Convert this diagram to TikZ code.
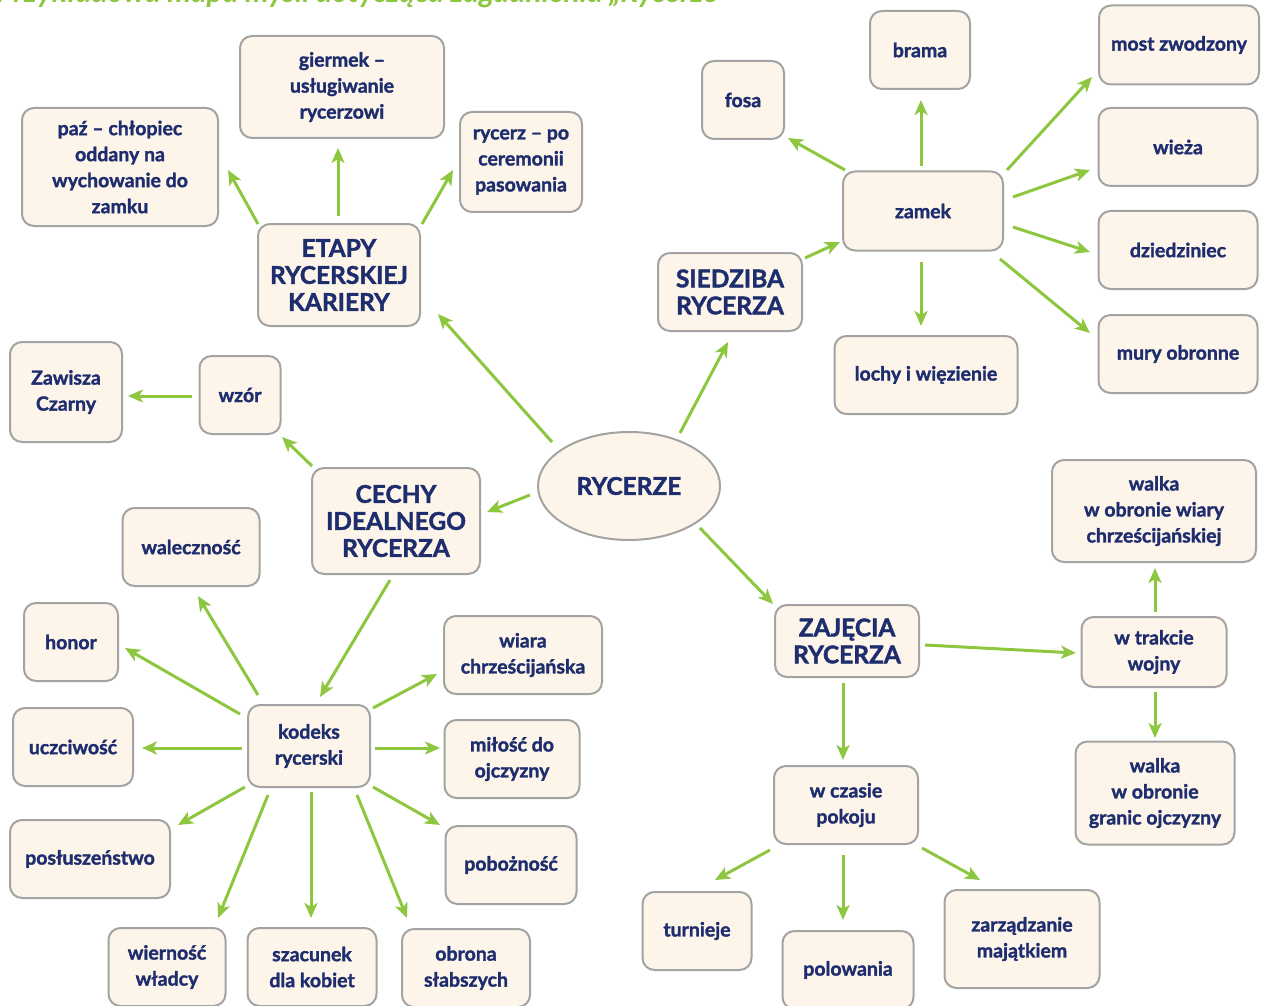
\documentclass[tikz,border=0pt]{standalone}
\usepackage{fontspec}
\setmainfont{Lato}[BoldFeatures={FakeBold=1.6}]
\usetikzlibrary{shapes.geometric,arrows.meta,calc}
\definecolor{navy}{HTML}{1E2D6E}
\definecolor{boxfill}{HTML}{FDF5EA}
\definecolor{boxline}{HTML}{A3A3A3}
\definecolor{lime}{HTML}{8DC63F}
\tikzset{
  box/.style={draw=boxline, fill=boxfill, line width=2pt, rounded corners=12pt,
    align=center, text=navy, inner sep=0pt,
    font=\bfseries\fontsize{19.5}{26}\selectfont},
  bigbox/.style={box, font=\bfseries\fontsize{24.5}{27}\selectfont},
  arr/.style={draw=lime, line width=3pt, -{Stealth[length=15pt,width=13pt,inset=4pt]}},
}
\newcommand\conn[4]{\draw[arr] ($(#1)+(#2)$) -- ($(#3)+(#4)$);}
\begin{document}
\begin{tikzpicture}[x=1pt,y=-1pt]
\useasboundingbox (0,0) rectangle (1270,1006);
\node[anchor=base west, text=lime, font=\bfseries\itshape\fontsize{30}{32}\selectfont, inner sep=0pt] (title) at (-4,3) {Przykładowa mapa myśli dotycząca zagadnienia „Rycerze”};
% left top
\node[box, minimum width=204, minimum height=102] (gier) at (342,87) {giermek –\\usługiwanie\\rycerzowi};
\node[box, minimum width=196, minimum height=118] (paz) at (120,167) {paź – chłopiec\\oddany na\\wychowanie do\\zamku};
\node[box, minimum width=122, minimum height=100] (ryc) at (521,162) {rycerz – po\\ceremonii\\pasowania};
\node[bigbox, minimum width=162, minimum height=102] (etapy) at (339,275) {ETAPY\\RYCERSKIEJ\\KARIERY};
\node[box, minimum width=112, minimum height=100] (zaw) at (66,392) {Zawisza\\Czarny};
\node[box, minimum width=81, minimum height=78] (wzor) at (240,395) {wzór};
\node[bigbox, minimum width=168, minimum height=106] (cechy) at (396,521) {CECHY\\IDEALNEGO\\RYCERZA};
\node[ellipse, draw=boxline, fill=boxfill, line width=2pt, text=navy, inner sep=0pt,
  font=\bfseries\fontsize{24.5}{27}\selectfont, minimum width=182, minimum height=108] (rc) at (629,486) {RYCERZE};
% cechy
\node[box, minimum width=137, minimum height=78] (wal) at (191,547) {waleczność};
\node[box, minimum width=94, minimum height=78] (hon) at (71,642) {honor};
\node[box, minimum width=158, minimum height=78] (wiara) at (523,655) {wiara\\chrześcijańska};
\node[box, minimum width=122, minimum height=82] (kod) at (309,746) {kodeks\\rycerski};
\node[box, minimum width=120, minimum height=78] (ucz) at (73,747) {uczciwość};
\node[box, minimum width=135, minimum height=78] (mil) at (512,759) {miłość do\\ojczyzny};
\node[box, minimum width=160, minimum height=78] (pos) at (90,859) {posłuszeństwo};
\node[box, minimum width=131, minimum height=78] (pob) at (511,865) {pobożność};
\node[box, minimum width=117, minimum height=78] (wie) at (167,967) {wierność\\władcy};
\node[box, minimum width=129, minimum height=78] (sza) at (312,967) {szacunek\\dla kobiet};
\node[box, minimum width=128, minimum height=78] (obr) at (466,968) {obrona\\słabszych};
% siedziba
\node[bigbox, minimum width=144, minimum height=78] (sied) at (730,292) {SIEDZIBA\\RYCERZA};
\node[box, minimum width=160, minimum height=79] (zamek) at (923,211) {zamek};
\node[box, minimum width=82, minimum height=78] (fosa) at (743,100) {fosa};
\node[box, minimum width=100, minimum height=78] (brama) at (920,50) {brama};
\node[box, minimum width=160, minimum height=79] (most) at (1179,45) {most zwodzony};
\node[box, minimum width=159, minimum height=78] (wieza) at (1178,147) {wieża};
\node[box, minimum width=159, minimum height=78] (dzie) at (1178,250) {dziedziniec};
\node[box, minimum width=159, minimum height=78] (mury) at (1178,354) {mury obronne};
\node[box, minimum width=183, minimum height=78] (lochy) at (926,375) {lochy i więzienie};
% zajecia
\node[bigbox, minimum width=144, minimum height=72] (zaj) at (847,641) {ZAJĘCIA\\RYCERZA};
\node[box, minimum width=204, minimum height=102] (wwiary) at (1154,511) {walka\\w obronie wiary\\chrześcijańskiej};
\node[box, minimum width=145, minimum height=70] (wtr) at (1154,652) {w trakcie\\wojny};
\node[box, minimum width=159, minimum height=103] (wgran) at (1155,793) {walka\\w obronie\\granic ojczyzny};
\node[box, minimum width=144, minimum height=78] (wcz) at (846,805) {w czasie\\pokoju};
\node[box, minimum width=109, minimum height=78] (tur) at (697,931) {turnieje};
\node[box, minimum width=131, minimum height=78] (pol) at (848,970) {polowania};
\node[box, minimum width=155, minimum height=98] (zarz) at (1022,939) {zarządzanie\\majątkiem};
% connectors
\conn{etapy}{-81,-51}{paz}{108,3}
\conn{etapy}{-1,-59}{gier}{-4,61}
\conn{etapy}{83,-51}{ryc}{-68,8}
\conn{rc}{-77,-44}{etapy}{99,39}
\conn{cechy}{-84,-55}{wzor}{42,42}
\conn{wzor}{-48,1}{zaw}{62,4}
\conn{rc}{-99,9}{cechy}{91,-9}
\conn{cechy}{-6,59}{kod}{11,-49}
\conn{kod}{-51,-51}{wal}{7,49}
\conn{kod}{-69,-32}{hon}{54,6}
\conn{kod}{-67,2}{ucz}{69,1}
\conn{kod}{-64,41}{pos}{88,-34}
\conn{kod}{-41,49}{wie}{51,-49}
\conn{kod}{2,46}{sza}{-1,-49}
\conn{kod}{48,49}{obr}{-59,-50}
\conn{kod}{64,41}{pob}{-71,-40}
\conn{kod}{66,2}{mil}{-72,-11}
\conn{kod}{64,-38}{wiara}{-86,19}
\conn{rc}{51,-53}{sied}{-2,50}
\conn{sied}{75,-34}{zamek}{-83,31}
\conn{zamek}{-78,-41}{fosa}{45,38}
\conn{zamek}{-2,-45}{brama}{1,50}
\conn{zamek}{84,-41}{most}{-87,32}
\conn{zamek}{90,-14}{wieza}{-88,23}
\conn{zamek}{90,16}{dzie}{-88,2}
\conn{zamek}{77,48}{mury}{-88,-21}
\conn{zamek}{-2,51}{lochy}{-5,-49}
\conn{rc}{71,42}{zaj}{-74,-37}
\conn{zaj}{78,4}{wtr}{-78,1}
\conn{wtr}{1,-40}{wwiary}{1,57}
\conn{wtr}{1,40}{wgran}{0,-55}
\conn{zaj}{-4,42}{wcz}{-3,-45}
\conn{wcz}{-76,45}{tur}{18,-51}
\conn{wcz}{-3,50}{pol}{-5,-50}
\conn{wcz}{76,43}{zarz}{-42,-59}
\end{tikzpicture}
\end{document}
